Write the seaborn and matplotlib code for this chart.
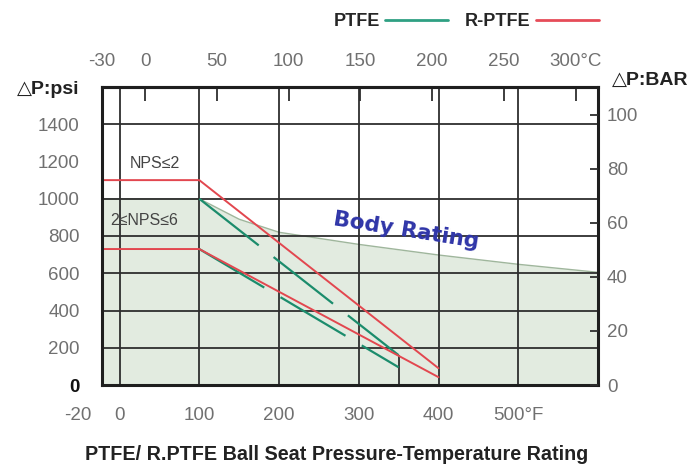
import matplotlib
matplotlib.use('Agg')
import matplotlib.pyplot as plt
import matplotlib.transforms as mtransforms
from matplotlib.lines import Line2D
import seaborn as sns

# values (temperature in deg F, pressure in psi)
body_f = [-22, 100, 150, 200, 300, 400, 500, 600]
body_psi = [1000, 1000, 890, 820, 755, 698, 648, 605]

rptfe_small_f = [-22, 100, 400]
rptfe_small_psi = [1100, 1100, 90]
rptfe_large_f = [-22, 100, 400]
rptfe_large_psi = [730, 730, 42]

ptfe_small_f = [100, 350]
ptfe_small_psi = [1000, 160]
ptfe_large_f = [100, 350]
ptfe_large_psi = [730, 95]

psi_ticks = [0, 200, 400, 600, 800, 1000, 1200, 1400]
psi_grid = [200, 400, 600, 800, 1000, 1400]
f_ticks = [-20, 0, 100, 200, 300, 400, 500]
f_labels = ['-20', '0', '100', '200', '300', '400', '500°F']
f_grid = [0, 100, 200, 300, 400, 500]
c_ticks = [-30, 0, 50, 100, 150, 200, 250, 300]
c_labels = ['-30', '0', '50', '100', '150', '200', '250', '300°C']
bar_ticks = [0, 20, 40, 60, 80, 100]

PSI_PER_BAR = 14.5038

sns.set_style('white')
plt.rcParams['font.family'] = ['Liberation Sans', 'DejaVu Sans']

RED = '#e2474f'
GREEN = '#1b8c6c'
GRID = '#2e2e2e'
TICK_GRAY = '#707070'

fig = plt.figure(figsize=(6.96, 4.67), dpi=100)
ax = fig.add_axes([102 / 696, 82 / 467, 496 / 696, 298 / 467])

# body rating area
ax.fill_between(body_f, body_psi, 0, color='#e2ebe0', lw=0, zorder=0.5)
sns.lineplot(x=body_f, y=body_psi, ax=ax, color='#9fb69c', linewidth=1.0,
             sort=False, zorder=1)

# grid
for y in psi_grid:
    ax.axhline(y, color=GRID, lw=1.3, zorder=2)
for x in f_grid:
    ax.axvline(x, color=GRID, lw=1.3, zorder=2)
ax.vlines(ptfe_small_f[-1], 0, ptfe_small_psi[-1], color=GRID, lw=1.3, zorder=2)

# seat ratings
dash = (0, (34, 8.5))
for xs, ys in [(rptfe_small_f, rptfe_small_psi), (rptfe_large_f, rptfe_large_psi)]:
    sns.lineplot(x=xs, y=ys, ax=ax, color=RED, linewidth=1.4, sort=False, zorder=4)
for xs, ys in [(ptfe_small_f, ptfe_small_psi), (ptfe_large_f, ptfe_large_psi)]:
    sns.lineplot(x=xs, y=ys, ax=ax, color=GREEN, linewidth=1.6, sort=False,
                 linestyle=dash, zorder=3)

ax.set_xlim(-22, 600)
ax.set_ylim(0, 1600)
ax.set_xlabel('')
ax.set_ylabel('')

for s in ax.spines.values():
    s.set_linewidth(2.2)
    s.set_color('#1e1e1e')
    s.set_zorder(5)

ax.set_yticks(psi_ticks)
ax.set_xticks(f_ticks, f_labels)
ax.tick_params(axis='both', length=0, labelsize=13.5, labelcolor=TICK_GRAY)
ax.tick_params(axis='y', pad=16)
ax.tick_params(axis='x', pad=16)
ylab0 = ax.get_yticklabels()[0]
ylab0.set_color('#111111')
ylab0.set_fontweight('bold')
xlab0 = ax.get_xticklabels()[0]
xlab0.set_transform(xlab0.get_transform() +
                    mtransforms.ScaledTranslation(-26 / 100, 0, fig.dpi_scale_trans))

# bar axis on the right
ax2 = ax.twinx()
ax2.set_ylim(0, 1600 / PSI_PER_BAR)
ax2.set_yticks(bar_ticks)
ax2.tick_params(axis='y', direction='in', length=6, width=1.3, color=GRID,
                labelsize=13.5, labelcolor=TICK_GRAY, pad=6.5)
for s in ax2.spines.values():
    s.set_visible(False)

# celsius axis on top
secx = ax.secondary_xaxis('top', functions=(lambda f: (f - 32) / 1.8,
                                             lambda c: c * 1.8 + 32))
secx.set_xticks(c_ticks, c_labels)
secx.tick_params(direction='in', length=10, width=1.3, color=GRID,
                 labelsize=13.5, labelcolor=TICK_GRAY, pad=12)
secx.spines['top'].set_linewidth(2.2)

# annotations
ax.text(44, 1190, 'NPS≤2', ha='center', va='center', fontsize=11.5, color='#444444', zorder=6)
ax.text(31, 882, '2≤NPS≤6', ha='center', va='center', fontsize=11.5, color='#444444', zorder=6)
ax.text(359, 828, 'Body Rating', ha='center', va='center', rotation=-9,
        fontsize=15.5, fontweight='bold', color='#2f35a8',
        family=['DejaVu Sans'], zorder=6)

fig.text(48 / 696, 1 - 90 / 467, '△P:psi', ha='center', va='center',
         fontsize=14, fontweight='bold', color='#222222')
fig.text(650 / 696, 1 - 80 / 467, '△P:BAR', ha='center', va='center',
         fontsize=14, fontweight='bold', color='#222222')

handles = [Line2D([], [], color='#2fa083', lw=2), Line2D([], [], color='#e64c58', lw=2)]
fig.legend(handles, ['PTFE', 'R-PTFE'], loc='center', ncol=2, markerfirst=False,
           frameon=False, bbox_to_anchor=(466 / 696, 1 - 22 / 467),
           prop={'weight': 'bold', 'size': 13}, handlelength=3.5,
           handletextpad=0.3, columnspacing=0.9, borderpad=0)

fig.text(337 / 696, 1 - 454 / 467, 'PTFE/ R.PTFE Ball Seat Pressure-Temperature Rating',
         ha='center', va='center', fontsize=14.2, fontweight='bold', color='#222222')

fig.savefig('out.png', dpi=100)
